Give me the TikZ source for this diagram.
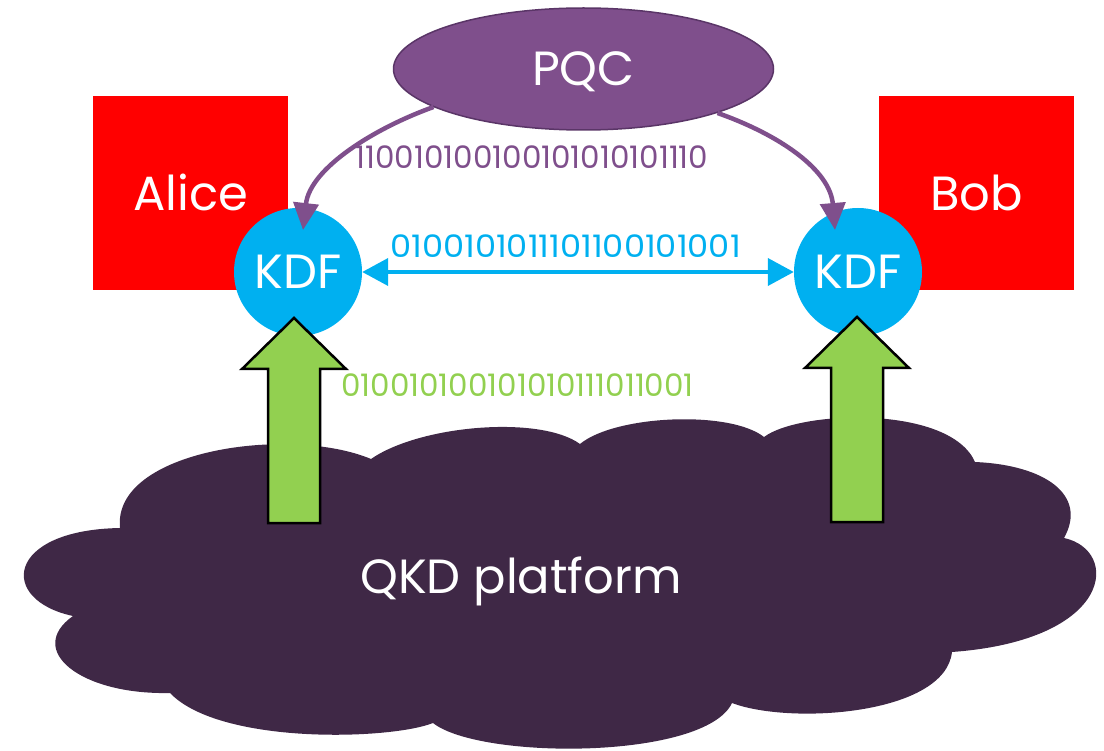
\documentclass[tikz,border=0pt]{standalone}
\usepackage{fontspec}
\setmainfont{Poppins}
\usetikzlibrary{shapes.geometric,arrows.meta,calc}

\definecolor{boxred}{HTML}{FF0000}
\definecolor{kdfcyan}{HTML}{00B0F0}
\definecolor{pqcpurple}{HTML}{7F4F8C}
\definecolor{pqcedge}{HTML}{5A3567}
\definecolor{keygreen}{HTML}{92D050}
\definecolor{cloudplum}{HTML}{3F2846}

\newcommand{\bigtype}{\fontsize{48}{58}\selectfont}
\newcommand{\keytype}{\fontsize{31}{37}\selectfont}

\tikzset{
  capc/.style={text height=33.6pt, text depth=0pt, inner sep=0pt},
  party/.style={fill=boxred, draw=none, minimum width=195, minimum height=194,
    capc, text=white, font=\bigtype},
  kdf/.style={circle, fill=kdfcyan, draw=none, minimum size=128,
    capc, text=white, font=\bigtype},
  pqcnode/.style={ellipse, fill=pqcpurple, draw=pqcedge, line width=1.5,
    minimum width=380, minimum height=122, capc, text=white, font=\bigtype},
  keytext/.style={font=\keytype, anchor=base, inner sep=0pt},
  pqcarrow/.style={draw=pqcpurple, line width=4.5,
    -{Triangle[length=27,width=25]}},
  qkdlink/.style={draw=kdfcyan, line width=4,
    {Triangle[length=26,width=27]}-{Triangle[length=26,width=27]}},
  greenarrow/.style={fill=keygreen, draw=black, line width=2.5, line join=miter},
  uparrow/.pic={
    \path[greenarrow] (-26,0) -- (-26,-154) -- (-52,-154) -- (0,-205)
      -- (52,-154) -- (26,-154) -- (26,0) -- cycle;
  }
}

\begin{document}
\begin{tikzpicture}[x=1pt, y=-1pt]
  \useasboundingbox (0,0) rectangle (1104,751);

  % the two parties
  \node[party] (alice) at (190.5,193.5) {Alice};
  \node[party] (bob) at (976.5,193.5) {Bob};

  % QKD platform cloud
  \fill[cloudplum] (120,528)
    .. controls (112,450) and (290,425) .. (371,459)
    .. controls (420,425) and (540,415) .. (580,444)
    .. controls (615,415) and (730,410) .. (764,437)
    .. controls (800,410) and (950,405) .. (975,462)
    .. controls (1045,465) and (1088,495) .. (1064,538)
    .. controls (1120,550) and (1115,640) .. (952,652)
    .. controls (945,715) and (790,725) .. (732,703)
    .. controls (705,760) and (480,760) .. (433,723)
    .. controls (390,740) and (220,745) .. (170,693)
    .. controls (80,695) and (25,650) .. (73,616)
    .. controls (-2,600) and (5,530) .. (120,528) -- cycle;
  \node[capc, text=white, font=\bigtype] (qkd) at (521,577) {QKD platform};

  % key derivation functions
  \node[kdf] (kdfa) at (298,272) {KDF};
  \node[kdf] (kdfb) at (858,272) {KDF};

  % QKD keys delivered up to each KDF
  \pic at (294,523) {uparrow};
  \pic at (857,522) {uparrow};

  % post-quantum key exchange
  \node[pqcnode] (pqc) at (583.5,69) {PQC};
  \draw[pqcarrow] ($(pqc.center)+(-150,38)$)
    .. controls (375,128) and (310,168) .. ($(kdfa.center)+(5,-42)$);
  \draw[pqcarrow] ($(pqc.center)+(134,44)$)
    .. controls (780,135) and (830,170) .. ($(kdfb.center)+(-23,-42)$);

  % shared key between the KDFs
  \draw[qkdlink] (kdfa.east) -- (kdfb.west);

  % key bit strings
  \node[keytext, text=pqcpurple] (pqckey) at (532,169) {110010100100101010101110};
  \node[keytext, text=kdfcyan, xscale=1.085] (sharedkey) at (565.5,258) {0100101011101100101001};
  \node[keytext, text=keygreen] (qkdkey) at (517.5,396.5) {010010100101010111011001};
\end{tikzpicture}
\end{document}
